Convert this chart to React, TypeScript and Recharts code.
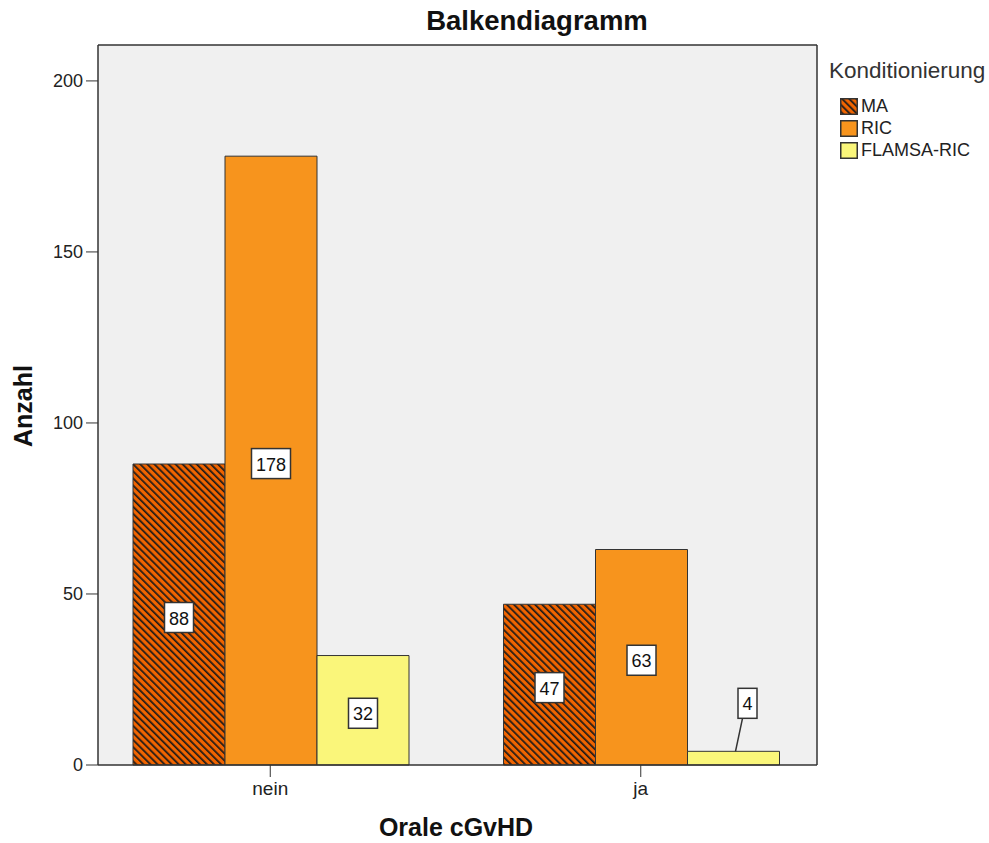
import React from 'react';
import { BarChart, Bar, XAxis, YAxis, CartesianGrid, LabelList, Label } from 'recharts';

const categories = ['nein', 'ja'];
const maValues = [88, 47];
const ricValues = [178, 63];
const flamsaValues = [32, 4];
const yTicks = [0, 50, 100, 150, 200];

const seriesKeys = ['MA', 'RIC', 'FLAMSA-RIC'];
const seriesColors = ['#f06400', '#f7941d', '#faf67a'];

const data = categories.map((name, i) => ({
  name,
  MA: maValues[i],
  RIC: ricValues[i],
  'FLAMSA-RIC': flamsaValues[i],
}));

const FONT = '"Liberation Sans", Arial, sans-serif';
const INK = '#222';
const LINE = '#333';

// white boxed value label, moved above the bar with a leader line when the bar is too short
const BoxLabel = (props: any) => {
  const { x, y, width, height, value } = props;
  const w = String(value).length * 10 + 9;
  const h = 30;
  const cx = x + width / 2;
  if (height < 36) {
    const bx = cx + 14;
    const by = y - 48;
    return (
      <g>
        <line x1={bx - 5} y1={by + h / 2} x2={cx + 2} y2={y} stroke={LINE} strokeWidth={1.5} />
        <rect x={bx - w / 2} y={by - h / 2} width={w} height={h} fill="#fff" stroke={LINE} strokeWidth={1.5} />
        <text x={bx} y={by + 1} textAnchor="middle" dominantBaseline="central" fontSize={18} fill="#111" fontFamily={FONT}>
          {value}
        </text>
      </g>
    );
  }
  const cy = y + height / 2 + 3;
  return (
    <g>
      <rect x={cx - w / 2} y={cy - h / 2} width={w} height={h} fill="#fff" stroke={LINE} strokeWidth={1.5} />
      <text x={cx} y={cy + 1} textAnchor="middle" dominantBaseline="central" fontSize={18} fill="#111" fontFamily={FONT}>
        {value}
      </text>
    </g>
  );
};

const Hatch = ({ id }: { id: string }) => (
  <pattern id={id} patternUnits="userSpaceOnUse" width={5} height={5} patternTransform="rotate(-45)">
    <rect width={5} height={5} fill={seriesColors[0]} />
    <rect width={1.7} height={5} fill="#1a1a1a" />
  </pattern>
);

const App = () => {
  return (
    <div style={{ position: 'absolute', left: 0, top: 0, width: 989, height: 843, background: '#fff', fontFamily: FONT }}>
      <div
        style={{
          position: 'absolute',
          left: 387,
          top: 7,
          width: 300,
          textAlign: 'center',
          fontWeight: 'bold',
          fontSize: 27.5,
          lineHeight: '28px',
          color: '#111',
        }}
      >
        Balkendiagramm
      </div>

      <BarChart
        width={989}
        height={843}
        data={data}
        margin={{ top: 44, right: 171, bottom: 0, left: 0 }}
        barGap={0}
        barCategoryGap={48}
      >
        <defs>
          <Hatch id="hatch-ma" />
        </defs>
        <CartesianGrid horizontal={false} vertical={false} fill="#f0f0f0" />
        <XAxis
          dataKey="name"
          height={78}
          padding={{ left: -13, right: -9 }}
          tickSize={12}
          tickMargin={5}
          tick={{ fontSize: 19, fill: INK, fontFamily: FONT }}
          tickLine={{ stroke: LINE }}
          axisLine={{ stroke: LINE, strokeWidth: 1.5 }}
        >
          <Label
            content={() => (
              <text x={456} y={836} textAnchor="middle" fontSize={25} fontWeight="bold" fill="#111" fontFamily={FONT}>
                Orale cGvHD
              </text>
            )}
          />
        </XAxis>
        <XAxis xAxisId="top" dataKey="name" orientation="top" height={1} tick={false} tickLine={false} axisLine={{ stroke: LINE, strokeWidth: 1.5 }} />
        <YAxis
          width={98}
          domain={[0, 210.5]}
          ticks={yTicks}
          tickSize={12}
          tickMargin={3}
          tick={{ fontSize: 18, fill: INK, fontFamily: FONT }}
          tickLine={{ stroke: LINE }}
          axisLine={{ stroke: LINE, strokeWidth: 1.5 }}
        >
          <Label
            content={() => (
              <text x={32} y={406} transform="rotate(-90, 32, 406)" textAnchor="middle" fontSize={25} fontWeight="bold" fill="#111" fontFamily={FONT}>
                Anzahl
              </text>
            )}
          />
        </YAxis>
        <YAxis yAxisId="right" orientation="right" width={1} tick={false} tickLine={false} axisLine={{ stroke: LINE, strokeWidth: 1.5 }} />
        {seriesKeys.map((key, i) => (
          <Bar
            key={key}
            dataKey={key}
            fill={i === 0 ? 'url(#hatch-ma)' : seriesColors[i]}
            stroke={LINE}
            strokeWidth={1}
            isAnimationActive={false}
          >
            <LabelList dataKey={key} content={BoxLabel} />
          </Bar>
        ))}
      </BarChart>

      <div style={{ position: 'absolute', left: 829, top: 58, color: '#333', fontSize: 22.5, lineHeight: '26px' }}>
        Konditionierung
      </div>
      {seriesKeys.map((key, i) => (
        <div
          key={key}
          style={{ position: 'absolute', left: 840, top: 106 + i * 22 - 11, height: 22, display: 'flex', alignItems: 'center' }}
        >
          <svg width={18} height={17} style={{ display: 'block' }}>
            <defs>
              <Hatch id="hatch-legend" />
            </defs>
            <rect x={0.75} y={0.75} width={16.5} height={15.5} fill={i === 0 ? 'url(#hatch-legend)' : seriesColors[i]} stroke={LINE} strokeWidth={1.5} />
          </svg>
          <span style={{ marginLeft: 3, fontSize: 18, color: INK }}>{key}</span>
        </div>
      ))}
    </div>
  );
};

export default App;
